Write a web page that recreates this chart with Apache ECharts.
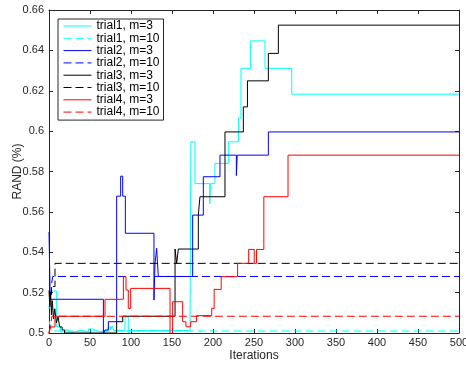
<!DOCTYPE html>
<html>
<head>
<meta charset="utf-8">
<script src="https://cdn.jsdelivr.net/npm/echarts@6/dist/echarts.min.js"></script>
<style>
html,body{margin:0;padding:0;background:#fff;}
#chart{width:466px;height:365px;}
</style>
</head>
<body>
<div id="chart"></div>
<script>
// Tick values
const xTicks = [0, 50, 100, 150, 200, 250, 300, 350, 400, 450, 500];
const yTicks = [0.5, 0.52, 0.54, 0.56, 0.58, 0.6, 0.62, 0.64, 0.66];

// Series names
const seriesNames = ['trial1, m=3', 'trial1, m=10', 'trial2, m=3', 'trial2, m=10',
                     'trial3, m=3', 'trial3, m=10', 'trial4, m=3', 'trial4, m=10'];

// Each value holds from its iteration until the next listed change
const trial1_m3 = [[0,0.512],[2,0.5208],[9.4,0.503],[14,0.5005],[20,0.5015],[24,0.5005],[30,0.5012],[40,0.5005],[48,0.502],[53,0.5012],[58,0.5005],[65,0.5012],[72,0.503],[75,0.5015],[77,0.5035],[79,0.5012],[92.7,0.508],[96.7,0.5],[98,0.5012],[172,0.5012],[173,0.5947],[178,0.574],[196,0.564],[197,0.574],[202.4,0.584],[218.7,0.5947],[231,0.6064],[234.1,0.6311],[245.9,0.6447],[263.4,0.6311],[296,0.6183],[500,0.6183]];
const trial1_m10 = [[0,0.506],[2,0.503],[4,0.501],[500,0.501]];
const trial2_m3 = [[0,0.55],[1.5,0.5167],[66.3,0.4995],[68.3,0.5015],[72.4,0.5056],[82.5,0.5678],[87.4,0.5777],[89.9,0.5678],[93.1,0.5494],[128,0.5163],[129.3,0.5345],[131.3,0.542],[133.3,0.528],[175.2,0.5584],[188.2,0.5774],[208.5,0.5881],[228.5,0.578],[229.5,0.5881],[267.5,0.5996],[500,0.5996]];
const trial2_m10 = [[0,0.52],[3,0.524],[4.5,0.528],[500,0.528]];
const trial3_m3 = [[0,0.521],[1,0.513],[2,0.52],[3,0.509],[4,0.516],[5.5,0.507],[7,0.512],[9,0.505],[11,0.508],[13,0.503],[16,0.5015],[19,0.5],[82.5,0.5056],[89.9,0.5083],[153.7,0.5416],[155.7,0.5345],[157.7,0.5416],[182.1,0.5584],[184.1,0.5675],[214.6,0.5996],[237,0.612],[242,0.6249],[267.5,0.6385],[279.7,0.6525],[500,0.6525]];
const trial3_m10 = [[0,0.519],[3,0.523],[7.3,0.5345],[500,0.5345]];
const trial4_m3 = [[0,0.5],[1.2,0.503],[7.3,0.5083],[68.3,0.5167],[90.7,0.5279],[93.9,0.5213],[96.7,0.5122],[99.6,0.5221],[147.6,0.498],[150.8,0.5155],[163,0.5056],[167,0.5031],[172.8,0.5056],[180,0.5086],[198.4,0.5122],[201.4,0.5216],[210,0.5279],[230,0.5345],[243.5,0.5414],[250.3,0.5345],[253.1,0.5414],[262,0.5675],[291.5,0.5881],[500,0.5881]];
const trial4_m10 = [[0,0.5],[2,0.503],[3.5,0.5083],[500,0.5083]];

const seriesData = [trial1_m3, trial1_m10, trial2_m3, trial2_m10, trial3_m3, trial3_m10, trial4_m3, trial4_m10];
const seriesColors = ['#00ffff', '#00ffff', '#0000ff', '#0000ff', '#000000', '#000000', '#ff0000', '#ff0000'];
const seriesDashed = [false, true, false, true, false, true, false, true];

const FONT = 'Liberation Sans, Arial, Helvetica, sans-serif';
const AX = '#262626';

const xMin = xTicks[0], xMax = xTicks[xTicks.length - 1], xInt = xTicks[1] - xTicks[0];
const yMin = yTicks[0], yMax = yTicks[yTicks.length - 1], yInt = 0.02;

function xAxisCfg(pos, showLabel) {
  return {
    type: 'value', position: pos, min: xMin, max: xMax, interval: xInt,
    axisLine: { show: true, onZero: false, lineStyle: { color: AX, width: 1 } },
    axisTick: { show: true, inside: true, length: 4, lineStyle: { color: AX } },
    axisLabel: { show: showLabel, color: AX, fontSize: 11, fontFamily: FONT, margin: 4 },
    splitLine: { show: false },
    name: showLabel ? 'Iterations' : '', nameLocation: 'middle', nameGap: 17, nameMoveOverlap: false,
    nameTextStyle: { color: AX, fontSize: 12, fontFamily: FONT }
  };
}
function yAxisCfg(pos, showLabel) {
  return {
    type: 'value', position: pos, min: yMin, max: yMax, interval: yInt,
    axisLine: { show: true, onZero: false, lineStyle: { color: AX, width: 1 } },
    axisTick: { show: true, inside: true, length: 4, lineStyle: { color: AX } },
    axisLabel: { show: showLabel, color: AX, fontSize: 11, fontFamily: FONT, margin: 5,
                 formatter: v => String(+v.toFixed(2)) },
    splitLine: { show: false },
    name: showLabel ? 'RAND (%)' : '', nameLocation: 'middle', nameGap: 25, nameRotate: 90, nameMoveOverlap: false,
    nameTextStyle: { color: AX, fontSize: 12, fontFamily: FONT }
  };
}

const chart = echarts.init(document.getElementById('chart'), null, { renderer: 'canvas' });
chart.setOption({
  animation: false,
  backgroundColor: '#fff',
  grid: { left: 49, right: 7, top: 10, bottom: 32, containLabel: false, outerBoundsMode: 'none' },
  xAxis: [xAxisCfg('bottom', true), xAxisCfg('top', false)],
  yAxis: [yAxisCfg('left', true), yAxisCfg('right', false)],
  legend: {
    orient: 'vertical', left: 58, top: 19,
    backgroundColor: '#fff', borderColor: AX, borderWidth: 1, borderRadius: 0,
    padding: [1, 4, 2, 5], itemGap: 0.3, itemWidth: 28, itemHeight: 11,
    itemStyle: { opacity: 0, borderWidth: 0 },
    lineStyle: { width: 1 },
    textStyle: { fontSize: 12, color: '#000', fontFamily: FONT, lineHeight: 12 },
    data: seriesNames
  },
  series: seriesNames.map((name, i) => ({
    name: name, type: 'line', step: 'end', xAxisIndex: 0, yAxisIndex: 0,
    data: seriesData[i], symbol: 'none', showSymbol: false, clip: true,
    lineStyle: { color: seriesColors[i], width: 1, type: seriesDashed[i] ? [8, 4] : 'solid' },
    itemStyle: { color: seriesColors[i] },
    emphasis: { disabled: true }
  }))
});
</script>
</body>
</html>
